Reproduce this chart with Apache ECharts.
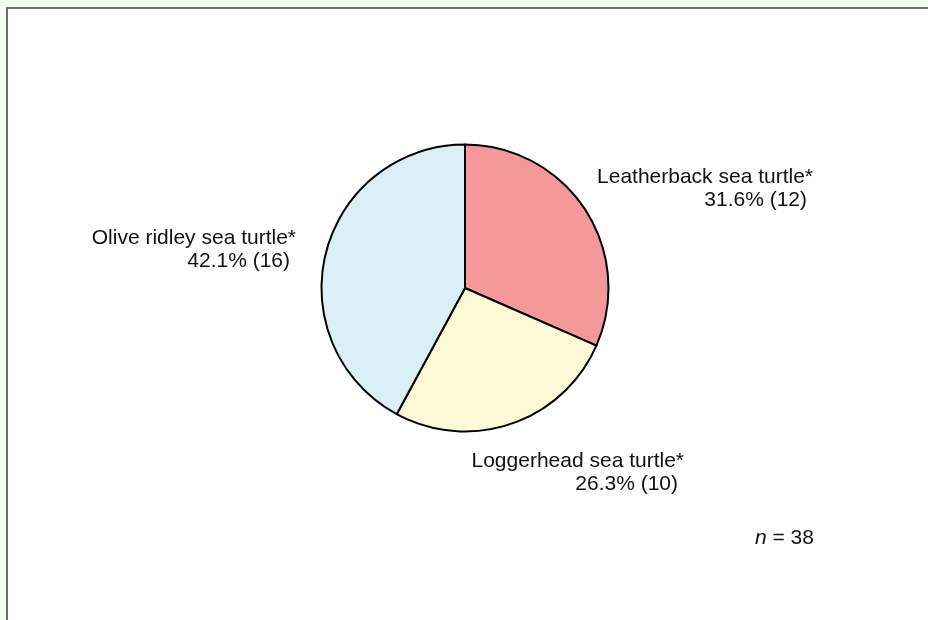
<!DOCTYPE html>
<html>
<head>
<meta charset="utf-8">
<script src="https://cdn.jsdelivr.net/npm/echarts@6/dist/echarts.min.js"></script>
<style>
html,body{margin:0;padding:0;background:#f0fff0;width:928px;height:620px;overflow:hidden;}
#frame{position:absolute;left:6px;top:7px;width:940px;height:640px;background:#fff;border-left:2px solid #6e6e6e;border-top:2px solid #6e6e6e;}
#chart{position:absolute;left:0;top:0;width:928px;height:620px;}
</style>
</head>
<body>
<div id="frame"></div>
<div id="chart"></div>
<script>
const categories = ['Leatherback sea turtle*', 'Loggerhead sea turtle*', 'Olive ridley sea turtle*'];
const counts = [12, 10, 16];
const colors = ['#f5989a', '#fdf9d6', '#dbeff6'];
const total = 38;
// label anchor (right edge x, vertical middle y)
const labelAnchors = [[813, 189], [684, 473], [296, 250]];

const chart = echarts.init(document.getElementById('chart'), null, {renderer: 'canvas'});
chart.setOption({
  backgroundColor: 'transparent',
  animation: false,
  graphic: [{
    type: 'text',
    left: 755,
    top: 528,
    style: {
      text: '{i|n} = ' + total,
      rich: { i: { fontStyle: 'italic', fontFamily: 'Liberation Sans, Arial, sans-serif', fontSize: 21, fill: '#111' } },
      font: '21px "Liberation Sans", Arial, sans-serif',
      fill: '#111'
    }
  }],
  series: [{
    type: 'pie',
    center: [465, 288],
    radius: 143.5,
    startAngle: 90,
    clockwise: true,
    percentPrecision: 1,
    label: {
      show: true,
      position: 'outside',
      formatter: p => '{a|' + p.name + '}\n{b|' + p.percent.toFixed(1) + '% (' + p.value + ')}',
      rich: {
        a: { fontSize: 21, fontFamily: 'Liberation Sans, Arial, sans-serif', color: '#111', lineHeight: 23, align: 'right' },
        b: { fontSize: 21, fontFamily: 'Liberation Sans, Arial, sans-serif', color: '#111', lineHeight: 23, align: 'right', padding: [0, 6, 0, 0] }
      }
    },
    labelLine: { show: false },
    labelLayout: p => ({
      x: labelAnchors[p.dataIndex][0],
      y: labelAnchors[p.dataIndex][1],
      align: 'right',
      verticalAlign: 'middle',
      hideOverlap: false
    }),
    itemStyle: { borderColor: '#000', borderWidth: 2 },
    emphasis: { disabled: true },
    data: categories.map((c, i) => ({ name: c, value: counts[i], itemStyle: { color: colors[i] } }))
  }]
});
</script>
</body>
</html>
